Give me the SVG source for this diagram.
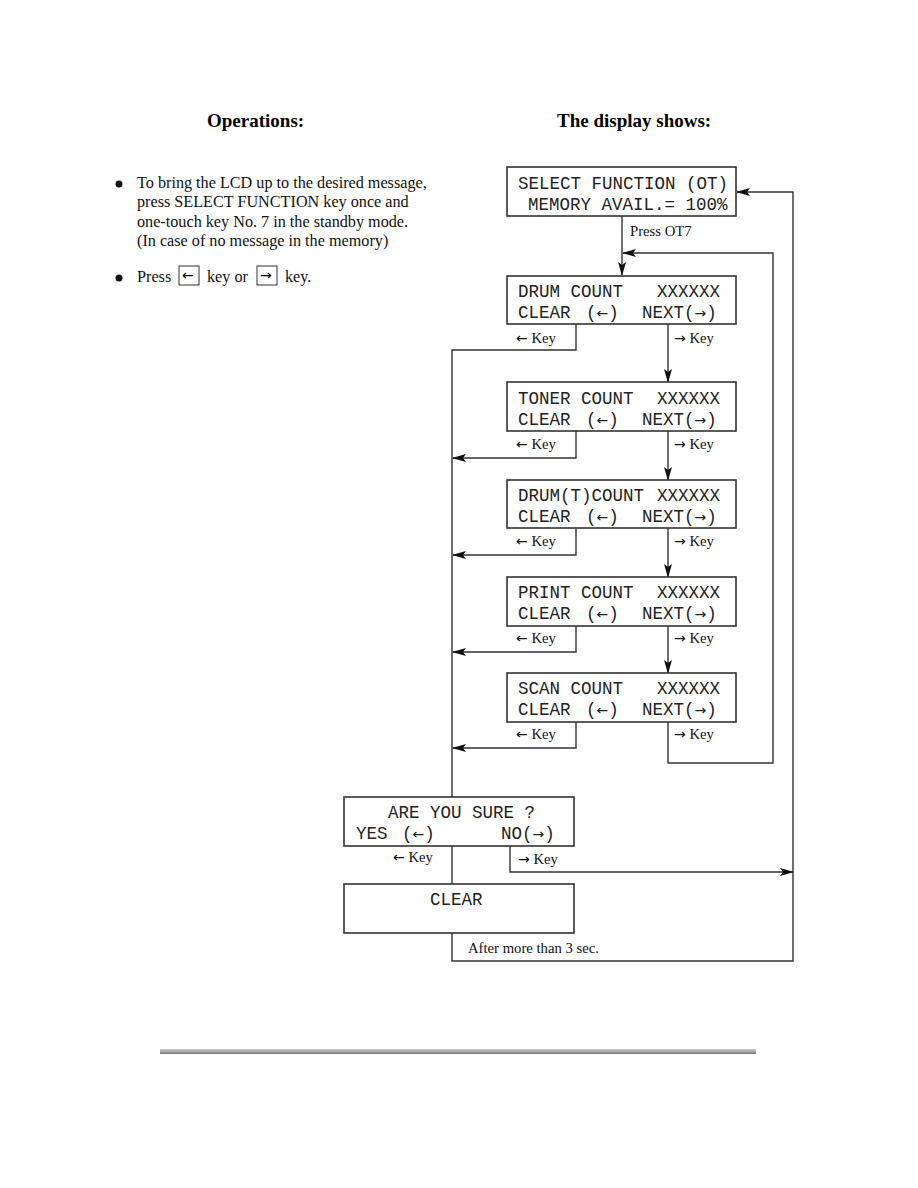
<svg xmlns="http://www.w3.org/2000/svg" width="918" height="1188" viewBox="0 0 918 1188">
<style>
.box{fill:#fff;stroke:#333;stroke-width:1.6}
.lcd{font-family:"Liberation Mono","DejaVu Sans Mono",monospace;font-size:17.5px;fill:#222}
.lbl{font-family:"Liberation Serif","DejaVu Serif",serif;font-size:14.7px;fill:#111}
.txt{font-family:"Liberation Serif","DejaVu Serif",serif;font-size:16.2px;fill:#111}
.hdr{font-family:"Liberation Serif","DejaVu Serif",serif;font-size:19px;font-weight:bold;fill:#000}
.ar{font-family:"DejaVu Sans",sans-serif;font-size:14px}
.ln{fill:none;stroke:#333;stroke-width:1.4}
.arr{marker-end:url(#ah)}
</style>
<defs>
<marker id="ah" markerWidth="14" markerHeight="8" refX="13" refY="4" orient="auto" markerUnits="userSpaceOnUse">
<path d="M0,0 L14,4 L0,8 L3,4 Z" fill="#111"/>
</marker>
<linearGradient id="rule" x1="0" y1="0" x2="0" y2="1">
<stop offset="0" stop-color="#c8c8c8"/>
<stop offset="0.5" stop-color="#a8a8a8"/>
<stop offset="1" stop-color="#777"/>
</linearGradient>
</defs>

<g id="headers">
<text class="hdr" x="207" y="127">Operations:</text>
<text class="hdr" x="557" y="127">The display shows:</text>
</g>

<g id="operations">
<circle cx="119" cy="184" r="3.5" fill="#111"/>
<text class="txt" x="137" y="188">To bring the LCD up to the desired message,</text>
<text class="txt" x="137" y="207">press SELECT FUNCTION key once and</text>
<text class="txt" x="137" y="227">one-touch key No. 7 in the standby mode.</text>
<text class="txt" x="137" y="246">(In case of no message in the memory)</text>
<circle cx="119" cy="278" r="3.5" fill="#111"/>
<text class="txt" x="137" y="282">Press</text>
<rect x="179" y="266" width="20" height="19" fill="none" stroke="#333" stroke-width="1"/>
<text class="ar" x="182" y="280" font-size="12">←</text>
<text class="txt" x="207" y="282">key or</text>
<rect x="257" y="266" width="20" height="19" fill="none" stroke="#333" stroke-width="1"/>
<text class="ar" x="260" y="280" font-size="12">→</text>
<text class="txt" x="285" y="282">key.</text>
</g>

<g id="connectors">
<line class="ln arr" x1="622" y1="216" x2="622" y2="275"/>
<text class="lbl" x="630" y="236">Press OT7</text>
<polyline class="ln arr" points="668,722 668,763 773,763 773,253 623,253"/>
<polyline class="ln arr" points="452,933 452,961 793,961 793,192 737,192"/>
<polyline class="ln arr" points="510,846 510,872 793,872"/>
<polyline class="ln" points="576,324 576,350 452,350 452,797"/>
<line class="ln" x1="452" y1="846" x2="452" y2="884"/>
<polyline class="ln arr" points="576,431 576,458 453,458"/>
<polyline class="ln arr" points="576,528 576,555 453,555"/>
<polyline class="ln arr" points="576,626 576,652 453,652"/>
<polyline class="ln arr" points="576,722 576,748 453,748"/>
<line class="ln arr" x1="668" y1="324" x2="668" y2="382"/>
<line class="ln arr" x1="668" y1="431" x2="668" y2="480"/>
<line class="ln arr" x1="668" y1="528" x2="668" y2="577"/>
<line class="ln arr" x1="668" y1="626" x2="668" y2="673"/>
<text class="lbl" x="516" y="343"><tspan class="ar" font-size="13">←</tspan> Key</text><text class="lbl" x="674" y="343"><tspan class="ar" font-size="13">→</tspan> Key</text>
<text class="lbl" x="516" y="449"><tspan class="ar" font-size="13">←</tspan> Key</text><text class="lbl" x="674" y="449"><tspan class="ar" font-size="13">→</tspan> Key</text>
<text class="lbl" x="516" y="546"><tspan class="ar" font-size="13">←</tspan> Key</text><text class="lbl" x="674" y="546"><tspan class="ar" font-size="13">→</tspan> Key</text>
<text class="lbl" x="516" y="643"><tspan class="ar" font-size="13">←</tspan> Key</text><text class="lbl" x="674" y="643"><tspan class="ar" font-size="13">→</tspan> Key</text>
<text class="lbl" x="516" y="739"><tspan class="ar" font-size="13">←</tspan> Key</text><text class="lbl" x="674" y="739"><tspan class="ar" font-size="13">→</tspan> Key</text>
<text class="lbl" x="393" y="862"><tspan class="ar" font-size="13">←</tspan> Key</text>
<text class="lbl" x="518" y="864"><tspan class="ar" font-size="13">→</tspan> Key</text>
<text class="lbl" x="468" y="953">After more than 3 sec.</text>
</g>

<g id="select-function">
<rect class="box" x="507" y="167" width="229" height="49"/>
<text class="lcd" x="518" y="189">SELECT FUNCTION (OT)</text>
<text class="lcd" x="528" y="210">MEMORY AVAIL.= 100%</text>
</g>

<g id="drum-count">
<rect class="box" x="507" y="276" width="229" height="48"/>
<text class="lcd" x="518" y="297">DRUM COUNT</text>
<text class="lcd" x="657" y="297">XXXXXX</text>
<text class="lcd" x="518" y="318">CLEAR</text><text class="lcd" x="586" y="318">(<tspan class="ar" font-size="15">←</tspan>)</text><text class="lcd" x="642" y="318">NEXT(<tspan class="ar" font-size="15">→</tspan>)</text>
</g>

<g id="toner-count">
<rect class="box" x="507" y="382" width="229" height="49"/>
<text class="lcd" x="518" y="404">TONER COUNT</text>
<text class="lcd" x="657" y="404">XXXXXX</text>
<text class="lcd" x="518" y="425">CLEAR</text><text class="lcd" x="586" y="425">(<tspan class="ar" font-size="15">←</tspan>)</text><text class="lcd" x="642" y="425">NEXT(<tspan class="ar" font-size="15">→</tspan>)</text>
</g>

<g id="drum-t-count">
<rect class="box" x="507" y="480" width="229" height="48"/>
<text class="lcd" x="518" y="501">DRUM(T)COUNT</text>
<text class="lcd" x="657" y="501">XXXXXX</text>
<text class="lcd" x="518" y="522">CLEAR</text><text class="lcd" x="586" y="522">(<tspan class="ar" font-size="15">←</tspan>)</text><text class="lcd" x="642" y="522">NEXT(<tspan class="ar" font-size="15">→</tspan>)</text>
</g>

<g id="print-count">
<rect class="box" x="507" y="577" width="229" height="49"/>
<text class="lcd" x="518" y="598">PRINT COUNT</text>
<text class="lcd" x="657" y="598">XXXXXX</text>
<text class="lcd" x="518" y="619">CLEAR</text><text class="lcd" x="586" y="619">(<tspan class="ar" font-size="15">←</tspan>)</text><text class="lcd" x="642" y="619">NEXT(<tspan class="ar" font-size="15">→</tspan>)</text>
</g>

<g id="scan-count">
<rect class="box" x="507" y="673" width="229" height="49"/>
<text class="lcd" x="518" y="694">SCAN COUNT</text>
<text class="lcd" x="657" y="694">XXXXXX</text>
<text class="lcd" x="518" y="715">CLEAR</text><text class="lcd" x="586" y="715">(<tspan class="ar" font-size="15">←</tspan>)</text><text class="lcd" x="642" y="715">NEXT(<tspan class="ar" font-size="15">→</tspan>)</text>
</g>

<g id="are-you-sure">
<rect class="box" x="344" y="797" width="230" height="49"/>
<text class="lcd" x="388" y="818">ARE YOU SURE ?</text>
<text class="lcd" x="356" y="839">YES</text><text class="lcd" x="402" y="839">(<tspan class="ar" font-size="15">←</tspan>)</text><text class="lcd" x="501" y="839">NO(<tspan class="ar" font-size="15">→</tspan>)</text>
</g>

<g id="clear">
<rect class="box" x="344" y="884" width="230" height="49"/>
<text class="lcd" x="430" y="905">CLEAR</text>
</g>

<g id="footer-rule">
<rect x="160" y="1049" width="596" height="5" fill="url(#rule)"/>
</g>
</svg>
